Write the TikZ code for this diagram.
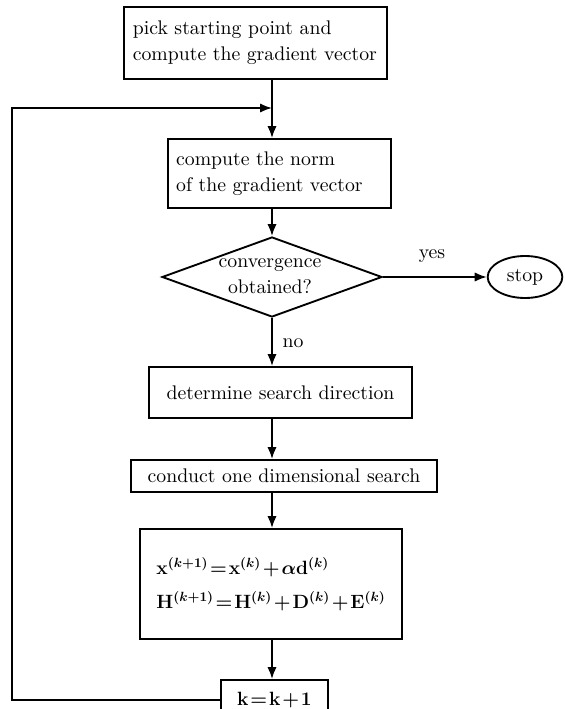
\documentclass[tikz,border=0pt]{standalone}
\usepackage{fontspec}
\setmainfont{lmroman10-regular.otf}[BoldFont=lmroman10-bold.otf, ItalicFont=lmroman10-italic.otf]
\usetikzlibrary{arrows.meta,shapes.geometric}
\begin{document}
\begin{tikzpicture}[x=0.75pt,y=-0.75pt,
  line width=1.4pt, >={Latex[length=9pt,width=7pt]},
  every node/.style={font=\fontsize{14.8}{19.5}\selectfont},
  box/.style={draw, rectangle, inner sep=0pt, align=center},
  lbl/.style={inner sep=1pt}]
\clip (0,0) rectangle (564,709);
\coordinate (m) at (272,0);
\coordinate (lp) at (12,108);
\node[box, minimum width=197pt, minimum height=54pt, text width=184pt, align=left] (b1) at (255.5,43) {pick starting point and\\compute the gradient vector};
\node[box, minimum width=167.25pt, minimum height=51.75pt, text width=155pt, align=left] (b2) at (279.5,173.5) {compute the norm\\of the gradient vector};
\node[draw, diamond, minimum width=165pt, minimum height=60pt, inner sep=0pt] (d) at (272,277) {};
\node[align=center, inner sep=0pt] (dt) at (270,276) {convergence\\obtained?};
\node[draw, ellipse, minimum width=56pt, minimum height=31.5pt, inner sep=0pt] (s) at (525,277) {stop};
\node[lbl] (yes) at (432,256) {yes};
\node[lbl] (no) at (293,343) {no};
\node[box, minimum width=197.25pt, minimum height=38.25pt] (b3) at (280.5,392.5) {determine search direction};
\node[box, minimum width=229.5pt, minimum height=24pt] (b4) at (284,476) {conduct one dimensional search};
\node[box, minimum width=196.5pt, minimum height=82.5pt, align=left,
  execute at begin node={\medmuskip=1.5mu\thickmuskip=1.5mu}] (b5) at (271,584) {{\boldmath$\mathbf{x}^{(k+1)}=\mathbf{x}^{(k)}+\alpha\mathbf{d}^{(k)}$}\\[6pt]{\boldmath$\mathbf{H}^{(k+1)}=\mathbf{H}^{(k)}+\mathbf{D}^{(k)}+\mathbf{E}^{(k)}$}};
\node[box, minimum width=80.25pt, minimum height=30pt,
  execute at begin node={\medmuskip=1.5mu\thickmuskip=1.5mu}] (b6) at (274.5,700) {{\boldmath$\mathbf{k}=\mathbf{k}+1$}};
\draw[->] (b1.south -| m) -- (b2.north -| m);
\draw[->] (b2.south -| m) -- (d.north);
\draw[->] (d.east) -- (s.west);
\draw[->] (d.south) -- (b3.north -| d.south);
\draw[->] (b3.south -| m) -- (b4.north -| m);
\draw[->] (b4.south -| m) -- (b5.north -| m);
\draw[->] (b5.south -| m) -- (b6.north -| m);
\draw[->] (b6.west) -| (lp) -- (lp -| m);
\end{tikzpicture}
\end{document}
